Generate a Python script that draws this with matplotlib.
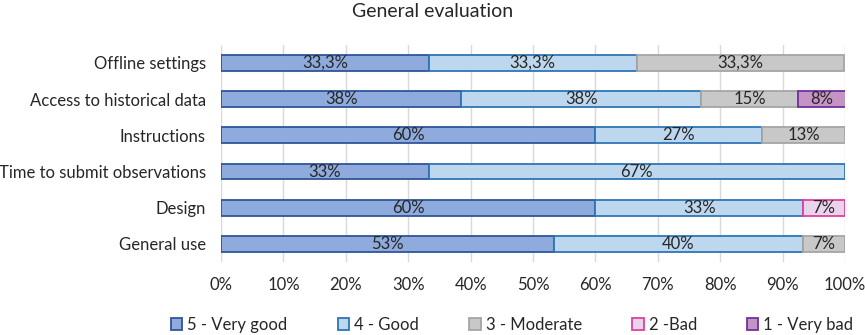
import matplotlib
matplotlib.use("Agg")
import matplotlib.pyplot as plt
import numpy as np

plt.rcParams['font.family'] = ['Lato', 'DejaVu Sans']

categories = ["Offline settings", "Access to historical data", "Instructions",
              "Time to submit observations", "Design", "General use"]
series_names = ["5 - Very good", "4 - Good", "3 - Moderate", "2 -Bad", "1 - Very bad"]
very_good = [33.3, 38.5, 60.0, 33.3, 60.0, 53.3]
good      = [33.3, 38.5, 26.7, 66.7, 33.3, 40.0]
moderate  = [33.3, 15.4, 13.3, 0.0, 0.0, 6.7]
bad       = [0.0, 0.0, 0.0, 0.0, 6.7, 0.0]
very_bad  = [0.0, 7.7, 0.0, 0.0, 0.0, 0.0]
offline_labels = ["33,3%", "33,3%", "33,3%"]

fills = ["#8FAADC", "#BDD7EE", "#C8C8C8", "#EBD3EB", "#C495C4"]
edges = ["#2F5597", "#2E75B6", "#A5A5A5", "#E040A0", "#7030A0"]

fig = plt.figure(figsize=(8.65, 3.35), dpi=100)
ax = fig.add_axes([0.2555, 0.218, 0.7214, 0.648])

y = np.arange(len(categories))
left = np.zeros(len(categories))
data = [very_good, good, moderate, bad, very_bad]
handles = []
for si, vals in enumerate(data):
    vals = np.array(vals)
    widths = np.where(vals > 0, vals, np.nan)
    h = ax.barh(y, widths, left=left, height=0.44, color=fills[si], edgecolor=edges[si],
                linewidth=1.3, label=series_names[si], zorder=3)
    handles.append(h)
    for i, v in enumerate(vals):
        if v > 0:
            if i == 0:
                txt = offline_labels[si]
            else:
                txt = f"{v:.0f}%"
            ax.text(left[i] + v / 2, y[i], txt, ha='center', va='center',
                    fontsize=12, color='#262626', zorder=4)
    left = left + vals

ax.set_xlim(0, 100)
ax.set_ylim(len(categories) - 0.5, -0.5)
ax.set_yticks(y)
ax.set_yticklabels(categories, fontsize=12, color='#262626')
ax.set_xticks(np.arange(0, 101, 10))
ax.set_xticklabels([f"{t}%" for t in range(0, 101, 10)], fontsize=12, color='#262626')
ax.tick_params(length=0)
ax.tick_params(axis='y', pad=11)
ax.tick_params(axis='x', pad=11)
for s in ax.spines.values():
    s.set_visible(False)
ax.grid(axis='x', color='#D9D9D9', linewidth=1, zorder=0)
ax.set_axisbelow(True)

fig.text(0.5, 0.965, "General evaluation", ha='center', va='center', fontsize=14, color='#262626')
fig.legend(handles=handles, loc='center', bbox_to_anchor=(0.592, 0.03), ncol=5,
           frameon=False, fontsize=12, handlelength=0.7, handleheight=0.7,
           handletextpad=0.3, columnspacing=3.0, labelcolor='#262626')

fig.savefig("out.png", dpi=100)
